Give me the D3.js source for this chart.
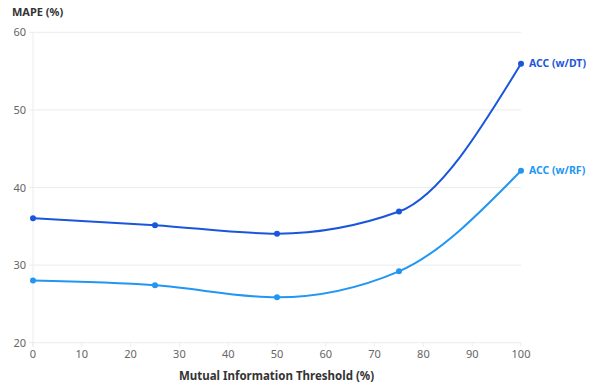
<!DOCTYPE html>
<html><head><meta charset="utf-8">
<script src="https://cdn.jsdelivr.net/npm/d3@7"></script>
<style>body{margin:0;background:#fff}svg{display:block;font-family:"Noto Sans","Open Sans",sans-serif}</style>
</head><body><svg id="c" width="596" height="385"></svg>
<script>
const thresholds = [0, 25, 50, 75, 100];
const seriesNames = ["ACC (w/DT)", "ACC (w/RF)"];
const dtValues = [36.05, 35.15, 34.05, 36.9, 55.95];
const rfValues = [28.0, 27.4, 25.85, 29.2, 42.15];
const xTicks = [0,10,20,30,40,50,60,70,80,90,100];
const yTicks = [20,30,40,50,60];
const colors = ["#1a56db", "#2196f3"];

const svg = d3.select("#c");
const x = d3.scaleLinear().domain([0,100]).range([33,521]);
const y = d3.scaleLinear().domain([20,60]).range([342.7,32.3]);

svg.append("g").selectAll("line").data(yTicks).join("line")
  .attr("x1",29).attr("x2",521).attr("y1",d=>y(d)).attr("y2",d=>y(d))
  .attr("stroke","#ececec").attr("stroke-width",1);
svg.append("line").attr("x1",x(0)).attr("x2",x(0)).attr("y1",y(60)).attr("y2",y(20)+4)
  .attr("stroke","#ececec");
svg.append("g").selectAll("line").data(xTicks).join("line")
  .attr("x1",d=>x(d)).attr("x2",d=>x(d)).attr("y1",y(20)).attr("y2",y(20)+4)
  .attr("stroke","#ececec");
svg.append("g").selectAll("text").data(yTicks).join("text")
  .attr("x",26).attr("y",d=>y(d)+4).attr("text-anchor","end")
  .attr("font-size",11).attr("fill","#666").text(d=>d);
svg.append("g").selectAll("text").data(xTicks).join("text")
  .attr("x",d=>x(d)).attr("y",358).attr("text-anchor","middle")
  .attr("font-size",11).attr("fill","#666").text(d=>d);

svg.append("text").attr("x",12).attr("y",16).attr("font-size",11).attr("font-weight","bold")
  .attr("fill","#333").text("MAPE (%)");
svg.append("text").attr("x",x(50)-0.5).attr("y",380).attr("text-anchor","middle").attr("font-size",11.5)
  .attr("font-weight","bold").attr("fill","#333").text("Mutual Information Threshold (%)");

const line = d3.line().x((d,i)=>x(thresholds[i])).y(d=>y(d)).curve(d3.curveMonotoneX);
[dtValues, rfValues].forEach((vals, k) => {
  const g = svg.append("g");
  g.append("path").attr("d", line(vals)).attr("fill","none").attr("stroke",colors[k]).attr("stroke-width",2);
  g.selectAll("circle").data(vals).join("circle")
    .attr("cx",(d,i)=>x(thresholds[i])).attr("cy",d=>y(d)).attr("r",3).attr("fill",colors[k]);
  const last = vals[vals.length-1];
  g.append("text").attr("x",x(100)+8).attr("y",y(last)+3.5).attr("font-size",10.5)
    .attr("font-weight","bold").attr("fill",colors[k]).text(seriesNames[k]);
});
</script></body></html>
